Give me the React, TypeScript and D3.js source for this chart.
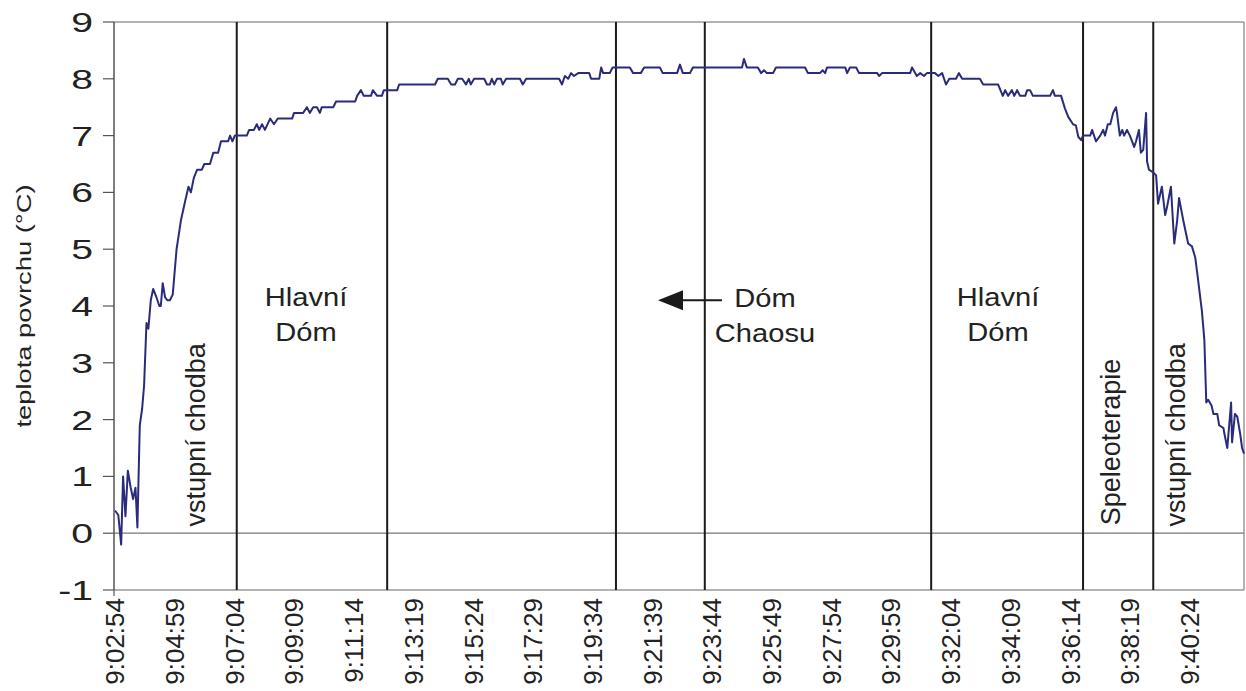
import React, { useMemo } from 'react';
import * as d3 from 'd3';

// čas v sekundách od 9:02:54, teplota povrchu v °C
const times = [
  0, 7, 13, 17, 22, 27, 33, 38, 43, 47, 52, 57, 61, 66, 70, 75, 80, 87, 93, 96,
  100, 105, 110, 115, 121, 129, 138, 147, 154, 159, 165, 172, 182, 187, 199, 206, 216, 222, 237, 241,
  246, 251, 276, 281, 291, 297, 302, 308, 314, 325, 333, 341, 371, 375, 394, 402, 408, 415, 423, 429,
  433, 457, 463, 503, 507, 515, 521, 536, 540, 549, 559, 563, 591, 595, 670, 676, 697, 704, 712, 718,
  727, 735, 741, 745, 752, 773, 779, 785, 789, 794, 800, 808, 812, 819, 848, 854, 861, 930, 936, 942,
  949, 955, 961, 970, 993, 997, 1014, 1018, 1022, 1036, 1042, 1078, 1085, 1101, 1108, 1141, 1147, 1177, 1183, 1189,
  1204, 1210, 1313, 1317, 1323, 1346, 1353, 1359, 1365, 1378, 1384, 1445, 1451, 1476, 1482, 1487, 1491, 1529, 1533, 1539,
  1552, 1558, 1596, 1600, 1606, 1665, 1669, 1679, 1686, 1694, 1700, 1717, 1724, 1732, 1740, 1747, 1761, 1767, 1774, 1811,
  1818, 1849, 1859, 1864, 1870, 1878, 1883, 1889, 1895, 1906, 1910, 1916, 1922, 1958, 1964, 1968, 1981, 1989, 1996, 2006,
  2012, 2017, 2023, 2027, 2042, 2046, 2054, 2063, 2069, 2073, 2079, 2084, 2090, 2096, 2098, 2104, 2109, 2113, 2119, 2125,
  2134, 2138, 2144, 2148, 2153, 2159, 2161, 2165, 2174, 2180, 2184, 2188, 2192, 2199, 2203, 2211, 2218, 2224, 2228, 2237,
  2247, 2255, 2262, 2268, 2276, 2281, 2285, 2289, 2296, 2300, 2308, 2312, 2321, 2323, 2329, 2337, 2339, 2345, 2350, 2356,
  2360, 2364,
];

const temps = [
  0.4, 0.32, -0.2, 1.0, 0.3, 1.1, 0.8, 0.6, 0.8, 0.1, 1.9, 2.2, 2.6, 3.7, 3.6, 4.1, 4.3, 4.15, 4.0, 4.0,
  4.4, 4.15, 4.1, 4.1, 4.2, 5.0, 5.5, 5.85, 6.1, 6.0, 6.25, 6.4, 6.4, 6.5, 6.5, 6.7, 6.7, 6.9, 6.9, 7.0,
  6.9, 7.0, 7.0, 7.1, 7.1, 7.2, 7.1, 7.2, 7.1, 7.3, 7.2, 7.3, 7.3, 7.4, 7.4, 7.5, 7.4, 7.5, 7.5, 7.4,
  7.5, 7.5, 7.6, 7.6, 7.7, 7.8, 7.7, 7.7, 7.8, 7.7, 7.7, 7.8, 7.8, 7.9, 7.9, 8.0, 8.0, 7.9, 7.9, 8.0,
  8.0, 7.9, 8.0, 7.9, 8.0, 8.0, 7.9, 7.9, 8.0, 7.9, 8.0, 8.0, 7.9, 8.0, 8.0, 7.9, 8.0, 8.0, 7.9, 8.05,
  8.0, 8.1, 8.05, 8.1, 8.1, 8.0, 8.0, 8.2, 8.1, 8.1, 8.2, 8.2, 8.1, 8.1, 8.2, 8.2, 8.1, 8.1, 8.25, 8.1,
  8.1, 8.2, 8.2, 8.35, 8.2, 8.2, 8.1, 8.15, 8.1, 8.1, 8.2, 8.2, 8.1, 8.1, 8.15, 8.1, 8.2, 8.2, 8.1, 8.2,
  8.2, 8.1, 8.1, 8.05, 8.1, 8.1, 8.2, 8.05, 8.1, 8.05, 8.1, 8.1, 8.05, 8.1, 7.9, 8.0, 8.0, 8.1, 8.0, 8.0,
  7.9, 7.9, 7.7, 7.8, 7.7, 7.8, 7.7, 7.8, 7.7, 7.7, 7.8, 7.8, 7.7, 7.7, 7.8, 7.7, 7.7, 7.48, 7.33, 7.2,
  7.18, 6.98, 6.92, 7.0, 7.0, 7.1, 6.9, 7.0, 7.1, 7.0, 7.2, 7.2, 7.4, 7.5, 7.4, 7.0, 7.1, 7.0, 7.1, 7.0,
  6.8, 6.9, 7.1, 6.7, 6.75, 7.4, 6.55, 6.4, 6.35, 6.3, 5.8, 5.95, 6.1, 5.6, 5.75, 6.1, 5.1, 5.5, 5.9, 5.5,
  5.1, 5.05, 4.85, 4.45, 3.9, 3.4, 2.3, 2.35, 2.25, 2.1, 2.1, 1.9, 1.85, 1.75, 1.5, 2.3, 1.6, 2.1, 2.05, 1.75,
  1.5, 1.4,
];

const tickLabels = [
  '9:02:54', '9:04:59', '9:07:04', '9:09:09', '9:11:14', '9:13:19', '9:15:24', '9:17:29', '9:19:34', '9:21:39',
  '9:23:44', '9:25:49', '9:27:54', '9:29:59', '9:32:04', '9:34:09', '9:36:14', '9:38:19', '9:40:24',
];
const yTicks = [-1, 0, 1, 2, 3, 4, 5, 6, 7, 8, 9];

// svislé čáry – přechody mezi prostorami (s od začátku)
const dividers = [255, 570, 1049, 1235, 1709, 2027, 2174];

// vodorovné popisky: střed (s), hodnota základní linky, řádky
const areaLabels = [
  { t: 400, v: 4.0, lines: ['Hlavní', 'Dóm'] },
  { t: 1361, v: 3.98, lines: ['Dóm', 'Chaosu'] },
  { t: 1849, v: 4.0, lines: ['Hlavní', 'Dóm'] },
];
// svislé popisky: základní linka (s), začátek textu (hodnota)
const sideLabels = [
  { t: 188, v: 0.12, text: 'vstupní chodba' },
  { t: 2104, v: 0.14, text: 'Speleoterapie' },
  { t: 2241, v: 0.12, text: 'vstupní chodba' },
];
const arrow = { from: 1271, to: 1137, v: 4.1 };

const W = 1246;
const H = 691;
const margin = { top: 22, right: 2, bottom: 101, left: 114 };
const FONT = '"Liberation Sans", Arial, Helvetica, sans-serif';
const LINE = '#2b2b7c';

const toSec = (s: string) => {
  const [h, m, sec] = s.split(':').map(Number);
  return h * 3600 + m * 60 + sec;
};

const App: React.FC = () => {
  const innerW = W - margin.left - margin.right;
  const innerH = H - margin.top - margin.bottom;

  const x = useMemo(() => d3.scaleLinear().domain([-2, 2364]).range([0, innerW]), [innerW]);
  const y = useMemo(() => d3.scaleLinear().domain([-1, 9]).range([innerH, 0]), [innerH]);

  const linePath = useMemo(() => {
    const gen = d3.line<number>()
      .x((_, i) => x(times[i]))
      .y(d => y(d));
    return gen(temps) || '';
  }, [x, y]);

  const t0 = toSec(tickLabels[0]);

  return (
    <svg width={W} height={H} style={{ position: 'absolute', left: 0, top: 0, fontFamily: FONT, background: '#fff' }}>
      <g transform={`translate(${margin.left},${margin.top})`}>
        {/* rámeček */}
        <line x1={0} y1={0} x2={innerW} y2={0} stroke="#999" strokeWidth={1.5} />
        <line x1={innerW} y1={0} x2={innerW} y2={innerH} stroke="#999" strokeWidth={1.5} />
        <line x1={0} y1={y(0)} x2={innerW} y2={y(0)} stroke="#777" strokeWidth={1.2} />
        <line x1={0} y1={innerH} x2={innerW} y2={innerH} stroke="#999" strokeWidth={1.5} />

        {dividers.map((d, i) => (
          <line key={`div-${i}`} x1={x(d)} y1={0} x2={x(d)} y2={innerH} stroke="#1a1a1a" strokeWidth={2} />
        ))}

        <path d={linePath} fill="none" stroke={LINE} strokeWidth={2} strokeLinejoin="round" />

        {/* osa y */}
        <line x1={0} y1={0} x2={0} y2={innerH} stroke="#555" strokeWidth={1.5} />
        {yTicks.map(t => (
          <g key={`y-${t}`}>
            <line x1={-11} y1={y(t)} x2={0} y2={y(t)} stroke="#555" strokeWidth={1.2} />
            <text
              transform={`translate(${-21},${y(t)}) scale(1.4,1)`}
              dy="0.36em"
              textAnchor="end"
              fontSize={28}
              fill="#222"
            >
              {t}
            </text>
          </g>
        ))}
        <text
          transform={`translate(${-83},${innerH / 2}) rotate(-90) scale(1.3,1)`}
          textAnchor="middle"
          fontSize={21}
          fill="#222"
        >
          teplota povrchu (°C)
        </text>

        {/* osa x */}
        <line x1={0} y1={innerH} x2={0} y2={innerH + 6} stroke="#555" strokeWidth={1.2} />
        {tickLabels.map(lbl => {
          const px = x(toSec(lbl) - t0);
          return (
            <text
              key={lbl}
              transform={`translate(${px},${innerH + 8}) rotate(-90)`}
              dy="0.36em"
              textAnchor="end"
              fontSize={26}
              fill="#222"
            >
              {lbl}
            </text>
          );
        })}

        {/* popisky prostor */}
        {areaLabels.map((a, i) => (
          <text
            key={`a-${i}`}
            transform={`translate(${x(a.t)},${y(a.v)}) scale(1.12,1)`}
            textAnchor="middle"
            fontSize={26}
            fill="#222"
          >
            {a.lines.map((l, j) => (
              <tspan key={j} x={0} dy={j === 0 ? 0 : 35}>{l}</tspan>
            ))}
          </text>
        ))}
        {sideLabels.map((s, i) => (
          <text
            key={`s-${i}`}
            transform={`translate(${x(s.t)},${y(s.v)}) rotate(-90)`}
            textAnchor="start"
            fontSize={27}
            fill="#222"
          >
            {s.text}
          </text>
        ))}

        {/* šipka */}
        <line x1={x(arrow.from)} y1={y(arrow.v)} x2={x(arrow.to) + 20} y2={y(arrow.v)} stroke="#1a1a1a" strokeWidth={2} />
        <path
          d={`M${x(arrow.to)},${y(arrow.v)} L${x(arrow.to) + 25},${y(arrow.v) - 10} L${x(arrow.to) + 25},${y(arrow.v) + 10} Z`}
          fill="#1a1a1a"
        />
      </g>
    </svg>
  );
};

export default App;
